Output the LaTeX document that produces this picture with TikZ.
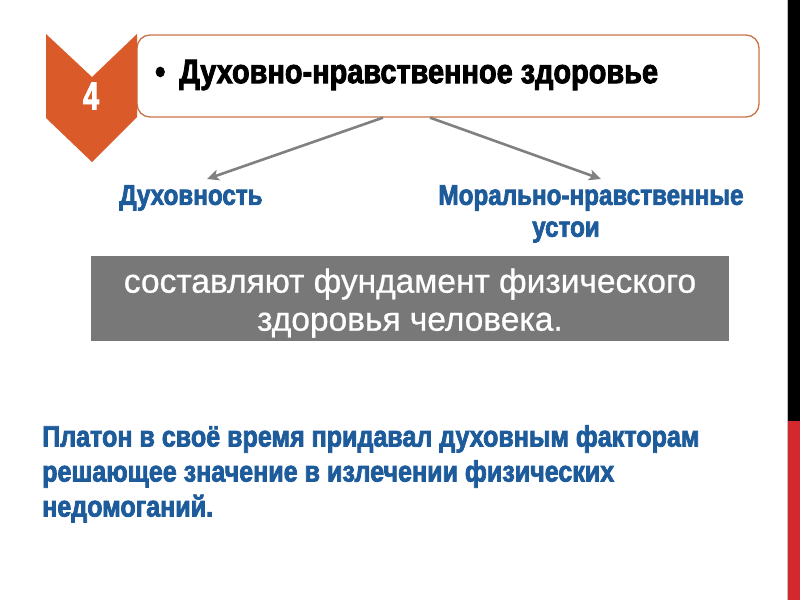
\documentclass[tikz,border=0pt]{standalone}
\usepackage{fontspec}
\setmainfont{Liberation Sans}
\newfontfamily\heavy{Liberation Sans Bold}[FakeStretch=0.85,FakeBold=2.5]
\newfontfamily\notefont{Liberation Sans}[FakeBold=0.8]
\usetikzlibrary{arrows.meta}
\definecolor{chev}{HTML}{DA5A2A}
\definecolor{boxedge}{HTML}{C87446}
\definecolor{tblue}{HTML}{1D5B9B}
\definecolor{graybox}{HTML}{787878}
\definecolor{arrowgray}{HTML}{808080}
\definecolor{barred}{HTML}{D2282E}
\tikzset{
  titlebox/.style={draw=boxedge, line width=1.3pt, rounded corners=13pt, fill=white,
    minimum width=622pt, minimum height=82pt, inner sep=0pt},
  bluelabel/.style={text=tblue, font=\heavy\fontsize{28.5}{32}\selectfont, inner sep=0pt},
  conn/.style={draw=arrowgray, line width=2.6pt, -{Stealth[length=12pt,width=11pt,inset=3pt]}},
  notebox/.style={fill=graybox, minimum width=638pt, minimum height=85pt, inner sep=0pt},
  notetext/.style={text=white, font=\notefont\fontsize{33.5}{38}\selectfont, align=center, inner sep=0pt},
  para/.style={text=tblue, font=\heavy\fontsize{29.5}{35}\selectfont, align=left, anchor=north west, inner sep=0pt}
}
\begin{document}
\begin{tikzpicture}[x=1pt,y=-1pt]
\useasboundingbox (0,0) rectangle (800,600);
% right edge bar
\fill[black] (788,0) rectangle (800,421);
\fill[barred] (788,421) rectangle (800,600);
\draw[gray!50, line width=0.8pt] (787.5,0) -- (787.5,600);
% title box
\node[titlebox] (box) at (448,76) {};
% chevron
\fill[chev] (46,34) -- (92,77) -- (137,34) -- (137,117) -- (92,162) -- (46,118) -- cycle;
\node[text=white, inner sep=0pt] (num) at (91,96) {\resizebox{16pt}{27pt}{\heavy 4}};
\node[anchor=west, inner sep=0pt] (title) at (155,75) {\heavy\fontsize{34}{38}\selectfont •\hspace{14pt}Духовно-нравственное здоровье};
% labels
\node[bluelabel] (l1) at (191,198) {Духовность};
\node[bluelabel] (l2) at (591,198) {Морально-нравственные};
\node[bluelabel] (l3) at (566,232) {устои};
% arrows
\draw[conn] ([xshift=-65pt]box.south) -- (207,179);
\draw[conn] ([xshift=-18pt]box.south) -- (601,179);
% gray box
\node[notebox] (note) at (410,298) {};
\node[notetext] (notet) at ([yshift=-5pt]note.center) {составляют фундамент физического\\здоровья человека.};
% paragraph
\node[para] (plato) at (42,425) {Платон в своё время придавал духовным факторам\\решающее значение в излечении физических\\недомоганий.};
\end{tikzpicture}
\end{document}
